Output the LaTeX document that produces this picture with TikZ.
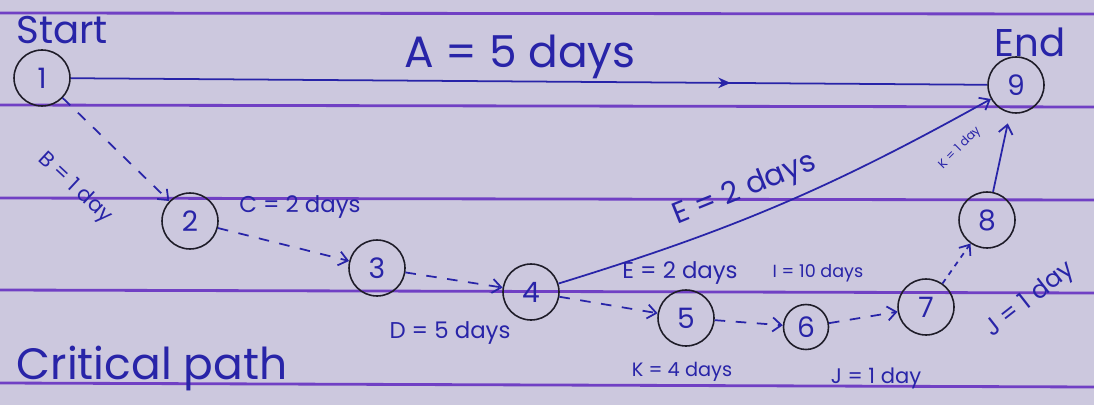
\documentclass[tikz,border=0pt]{standalone}
\usepackage{fontspec}
\setmainfont{Poppins}
\usetikzlibrary{arrows.meta,decorations.markings}
\definecolor{paper}{RGB}{204,200,222}
\definecolor{rulecol}{RGB}{112,64,196}
\definecolor{ink}{RGB}{40,36,168}
\definecolor{pencil}{RGB}{30,28,40}
\begin{document}
\begin{tikzpicture}[x=0.02cm,y=-0.02cm,
  event/.style={circle,draw=pencil,line width=0.9pt,minimum size=1.12cm,inner sep=0pt,
    text=ink,font=\fontsize{16}{16}\selectfont},
  act/.style={draw=ink,line width=1pt},
  arr/.style={act,-{Straight Barb[length=5pt,width=8pt]}},
  dummy/.style={arr,dash pattern=on 6pt off 6pt},
  midarrow/.style={postaction={decorate},decoration={markings,
    mark=at position 0.72 with {\arrow[ink]{Stealth[length=7pt,width=6pt]}}}},
  lbl/.style={text=ink,inner sep=0pt},
  paperline/.style={draw=rulecol,line width=1.6pt}]
% sheet of ruled paper
\fill[paper] (0,0) rectangle (1094,405);
\useasboundingbox (0,0) rectangle (1094,405);
\draw[paperline] (0,13) -- (1094,14);
\draw[paperline] (0,105) -- (1094,107);
\draw[paperline] (0,198) -- (1094,200);
\draw[paperline] (0,290) -- (1094,293);
\draw[paperline] (0,383) -- (1094,387);

% events
\node[event] (n1) at (42,78) {1};
\node[event] (n2) at (190,221) {2};
\node[event] (n3) at (377,268) {3};
\node[event] (n4) at (531,292) {4};
\node[event] (n5) at (686,318) {5};
\node[event,minimum size=0.9cm] (n6) at (806,327) {6};
\node[event] (n7) at (926,307) {7};
\node[event] (n8) at (987,220) {8};
\node[event] (n9) at (1016,85) {9};

% activities
\draw[act,midarrow] (n1) -- (n9);
\draw[dummy] (n1) -- (n2);
\draw[dummy] (n2) -- (n3);
\draw[dummy] (n3) -- (n4);
\draw[dummy] (n4) -- (n5);
\draw[dummy] (n5) -- (n6);
\draw[dummy] (n6) -- (n7);
\draw[dummy,dash pattern=on 3pt off 3pt] (n7) -- (n8);
\draw[arr] (n4) to[bend right=6] (n9);
\draw[arr,shorten >=6pt] (n8) -- (n9);

% labels
\node[lbl,font=\fontsize{22}{22}\selectfont] (tstart) at (62,30) {Start};
\node[lbl,font=\fontsize{22}{22}\selectfont] (tend) at (1030,42) {End};
\node[lbl,font=\fontsize{25}{25}\selectfont] (la) at (520,57) {A = 5 days};
\node[lbl,font=\fontsize{12}{12}\selectfont,rotate=-43] (lb) at (75,188) {B = 1 day};
\node[lbl,font=\fontsize{13}{13}\selectfont] (lc) at (300,207) {C = 2 days};
\node[lbl,font=\fontsize{13}{13}\selectfont] (ld) at (450,333) {D = 5 days};
\node[lbl,font=\fontsize{17}{17}\selectfont,rotate=22] (le) at (745,190) {E = 2 days};
\node[lbl,font=\fontsize{13}{13}\selectfont] (lf) at (680,273) {E = 2 days};
\node[lbl,font=\fontsize{10}{10}\selectfont] (li) at (818,273) {I = 10 days};
\node[lbl,font=\fontsize{11}{11}\selectfont] (lk) at (682,372) {K = 4 days};
\node[lbl,font=\fontsize{12}{12}\selectfont] (lj) at (876,378) {J = 1 day};
\node[lbl,font=\fontsize{14}{14}\selectfont,rotate=38] (lj2) at (1030,300) {J = 1 day};
\node[lbl,font=\fontsize{7}{7}\selectfont,rotate=45] (lk2) at (960,148) {K = 1 day};
\node[lbl,font=\fontsize{25}{25}\selectfont] (lcp) at (152,368) {Critical path};
\end{tikzpicture}
\end{document}
